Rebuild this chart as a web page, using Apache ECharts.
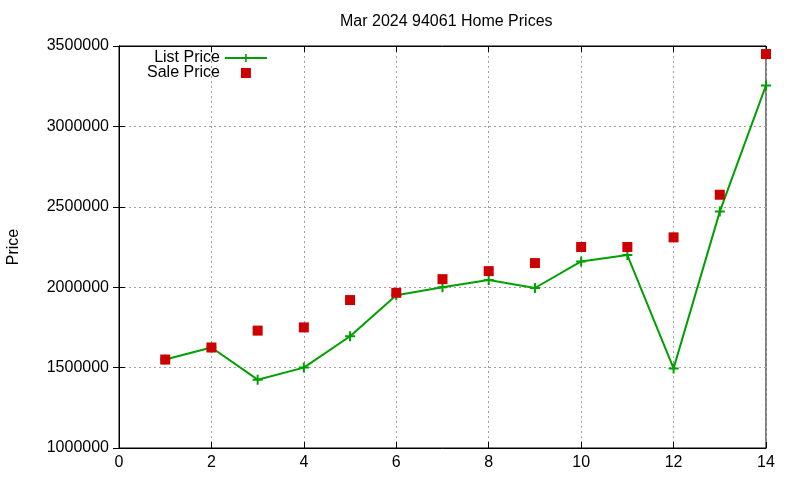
<!DOCTYPE html>
<html lang="en">
<head>
  <meta charset="UTF-8">
  <title>94061 Home Prices</title>
  <style>
    html, body { margin: 0; padding: 0; background: #fff; }
    #chart { width: 800px; height: 480px; }
  </style>
</head>
<body>
  <div id="chart"></div>
  <script src="https://cdn.jsdelivr.net/npm/echarts@6/dist/echarts.min.js"></script>
  <script>
    var months = [1, 2, 3, 4, 5, 6, 7, 8, 9, 10, 11, 12, 13, 14]
    var listPrice = [1550000, 1625000, 1425000, 1500000, 1695000, 1950000, 2000000, 2045000, 1995000, 2160000, 2200000, 1495000, 2470000, 3255000]
    var salePrice = [1550000, 1625000, 1730000, 1750000, 1920000, 1965000, 2050000, 2100000, 2150000, 2250000, 2250000, 2310000, 2575000, 3450000]

    var plus = 'path://M4,0 L6,0 L6,4 L10,4 L10,6 L6,6 L6,10 L4,10 L4,6 L0,6 L0,4 L4,4 Z'
    // square centred in a 42x10 box so the legend icon isn't stretched
    var legendSquare = 'path://M0,0 L0,0 M42,10 L42,10 M16,0 L26,0 L26,10 L16,10 Z'
    var font = 'Liberation Sans'
    var gridLine = { show: true, lineStyle: { color: '#a0a0a0', type: [2, 3], width: 1 } }

    function pairs (ys) {
      return ys.map(function (y, i) { return [months[i], y] })
    }

    var chart = echarts.init(document.getElementById('chart'))
    chart.setOption({
      animation: false,
      title: {
        text: 'Mar 2024 94061 Home Prices',
        left: 335, top: 9,
        textStyle: { fontFamily: font, fontSize: 16, fontWeight: 'normal', color: '#000' }
      },
      legend: {
        orient: 'vertical',
        left: 142, top: 45,
        align: 'right',
        itemWidth: 42, itemHeight: 10, itemGap: -1,
        textStyle: { fontFamily: font, fontSize: 16, color: '#000' },
        data: [{ name: 'List Price' }, { name: 'Sale Price', icon: legendSquare }]
      },
      grid: {
        left: 119, right: 34, top: 46, bottom: 32,
        outerBoundsMode: 'none',
        show: true, borderColor: '#000', borderWidth: 1
      },
      xAxis: [{
        type: 'value', min: 0, max: 14, interval: 2,
        axisLine: { lineStyle: { color: '#000' } },
        axisTick: { inside: true, length: 6, lineStyle: { color: '#000' } },
        axisLabel: { fontFamily: font, fontSize: 16, color: '#000', margin: 7 },
        splitLine: gridLine
      }, {
        type: 'value', min: 0, max: 14, interval: 2, position: 'top',
        axisLine: { lineStyle: { color: '#000' } },
        axisTick: { inside: true, length: 6, lineStyle: { color: '#000' } },
        axisLabel: { show: false }, splitLine: { show: false }
      }],
      yAxis: [{
        type: 'value', min: 1000000, max: 3500000, interval: 500000,
        name: 'Price', nameLocation: 'middle', nameGap: 97,
        nameTextStyle: { fontFamily: font, fontSize: 16, color: '#000' },
        axisLine: { show: true, lineStyle: { color: '#000' } },
        axisTick: { show: true, inside: true, length: 6, lineStyle: { color: '#000' } },
        axisLabel: { fontFamily: font, fontSize: 16, color: '#000', margin: 10,
          formatter: function (v) { return String(v) } },
        splitLine: gridLine
      }, {
        type: 'value', min: 1000000, max: 3500000, interval: 500000, position: 'right',
        axisLine: { show: true, lineStyle: { color: '#000' } },
        axisTick: { show: true, inside: true, length: 6, lineStyle: { color: '#000' } },
        axisLabel: { show: false }, splitLine: { show: false }
      }],
      series: [{
        name: 'List Price',
        type: 'line',
        data: pairs(listPrice),
        symbol: plus, symbolSize: 10, showAllSymbol: true,
        itemStyle: { color: '#00a000' },
        lineStyle: { color: '#00a000', width: 2 },
        z: 3
      }, {
        name: 'Sale Price',
        type: 'scatter',
        data: pairs(salePrice),
        symbol: 'rect', symbolSize: 10,
        itemStyle: { color: '#cc0000', opacity: 1 },
        z: 4
      }]
    })
  </script>
</body>
</html>
